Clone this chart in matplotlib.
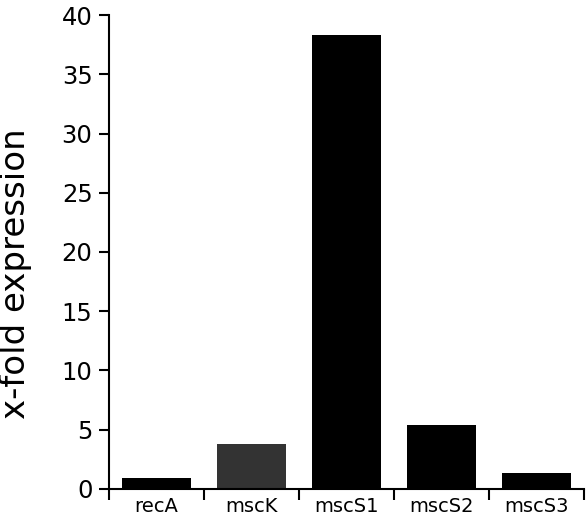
import numpy as np
from matplotlib import pyplot as plt

genes = ["recA", "mscK", "mscS1", "mscS2", "mscS3"]
expression = [0.95, 3.8, 38.3, 5.4, 1.35]
bar_colors = ["black", "#333333", "black", "black", "black"]

fig = plt.figure(figsize=(5.87, 5.19), dpi=100)
ax = fig.add_axes([0.186, 0.058, 0.809, 0.913])

x = np.arange(len(genes))
ax.bar(x, expression, width=0.72, color=bar_colors)

ax.set_xlim(-0.5, len(genes) - 0.5)
ax.set_ylim(0, 40)
ax.set_yticks(range(0, 41, 5))

# ticks sit between the bars, labels under the bars
ax.set_xticks(np.arange(-0.5, len(genes), 1.0))
ax.set_xticklabels([])
ax.set_xticks(x, minor=True)
ax.set_xticklabels(genes, minor=True, fontsize=14)
ax.tick_params(axis="x", which="minor", length=0, pad=6)
ax.tick_params(axis="x", which="major", length=8, width=1.5, direction="out")
ax.tick_params(axis="y", length=7, width=1.5, direction="out", labelsize=17.5, pad=5)

for side in ["top", "right"]:
    ax.spines[side].set_visible(False)
for side in ["left", "bottom"]:
    ax.spines[side].set_linewidth(1.5)

ax.set_ylabel("x-fold expression", fontsize=24.5)
ax.yaxis.set_label_coords(-0.162, 0.454)

fig.savefig("out.png", dpi=100)
